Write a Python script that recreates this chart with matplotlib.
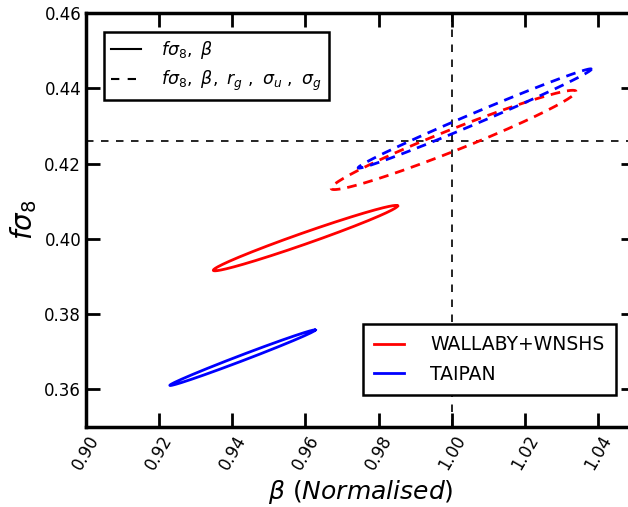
import numpy as np
import matplotlib
matplotlib.use('Agg')
import matplotlib.pyplot as plt

# Forecast ellipses: centre (beta, fsigma8), half-extents and correlation
surveys = ['WALLABY+WNSHS', 'TAIPAN']
colors = ['red', 'blue']
# two-parameter fit (solid)
cen_2p = [(0.9600, 0.4002), (0.9428, 0.3684)]
half_2p = [(0.0252, 0.0087), (0.0199, 0.0074)]
rho_2p = [0.983, 0.994]
# five-parameter fit (dashed)
cen_5p = [(1.0005, 0.4263), (1.0063, 0.4320)]
half_5p = [(0.0335, 0.0132), (0.0319, 0.0132)]
rho_5p = [0.973, 0.993]

beta_fid = 1.00
fs8_fid = 0.426


def ellipse(c, h, rho, n=300):
    t = np.linspace(0, 2*np.pi, n)
    x = c[0] + h[0]*np.cos(t)
    y = c[1] + h[1]*(rho*np.cos(t) + np.sqrt(1 - rho**2)*np.sin(t))
    return x, y


fig = plt.figure(figsize=(6.28, 5.07), dpi=100)
ax = fig.add_axes([0.137, 0.158, 0.8735, 0.816])

ax.axvline(beta_fid, color='k', ls='--', lw=1.2, dashes=(4.5, 4.5))
ax.axhline(fs8_fid, color='k', ls='--', lw=1.2, dashes=(4.5, 4.5))

hs = []
for i in range(2):
    x, y = ellipse(cen_2p[i], half_2p[i], rho_2p[i])
    h, = ax.plot(x, y, color=colors[i], lw=2)
    hs.append(h)
    x, y = ellipse(cen_5p[i], half_5p[i], rho_5p[i])
    ax.plot(x, y, color=colors[i], lw=2, ls='--', dashes=(3.5, 2.5))

ax.set_xlim(0.90, 1.05)
ax.set_ylim(0.35, 0.46)
xt = np.arange(0.90, 1.041, 0.02)
ax.set_xticks(xt)
ax.set_yticks(np.arange(0.36, 0.461, 0.02))
ax.set_xticklabels(['%.2f' % v for v in xt], rotation=60)
ax.tick_params(direction='in', length=10, width=2, top=True, right=True, labelsize=12)
for s in ax.spines.values():
    s.set_linewidth(2.5)

ax.set_xlabel(r'$\beta\ (Normalised)$', fontsize=18)
ax.set_ylabel(r'$f\sigma_8$', fontsize=20)

l1a, = ax.plot([], [], 'k-', lw=1.5)
l1b, = ax.plot([], [], 'k--', lw=1.5, dashes=(4, 4))
leg1 = ax.legend([l1a, l1b], [r'$f\sigma_8,\ \beta$', r'$f\sigma_8,\ \beta,\ r_g\ ,\ \sigma_u\ ,\ \sigma_g$'],
                 loc='upper left', bbox_to_anchor=(0.033, 0.954), borderaxespad=0, fontsize=12.5,
                 fancybox=False, edgecolor='k', framealpha=1, handlelength=1.7,
                 handletextpad=1.2, labelspacing=0.45)
leg1.get_frame().set_linewidth(1.8)
ax.add_artist(leg1)

leg2 = ax.legend(hs, surveys, loc='lower right', bbox_to_anchor=(0.966, 0.077), borderaxespad=0,
                 fontsize=13.5, fancybox=False, edgecolor='k', framealpha=1, handlelength=1.6,
                 handletextpad=1.4, labelspacing=0.55, borderpad=0.6)
leg2.get_frame().set_linewidth(1.8)

fig.savefig('out.png', dpi=100)
